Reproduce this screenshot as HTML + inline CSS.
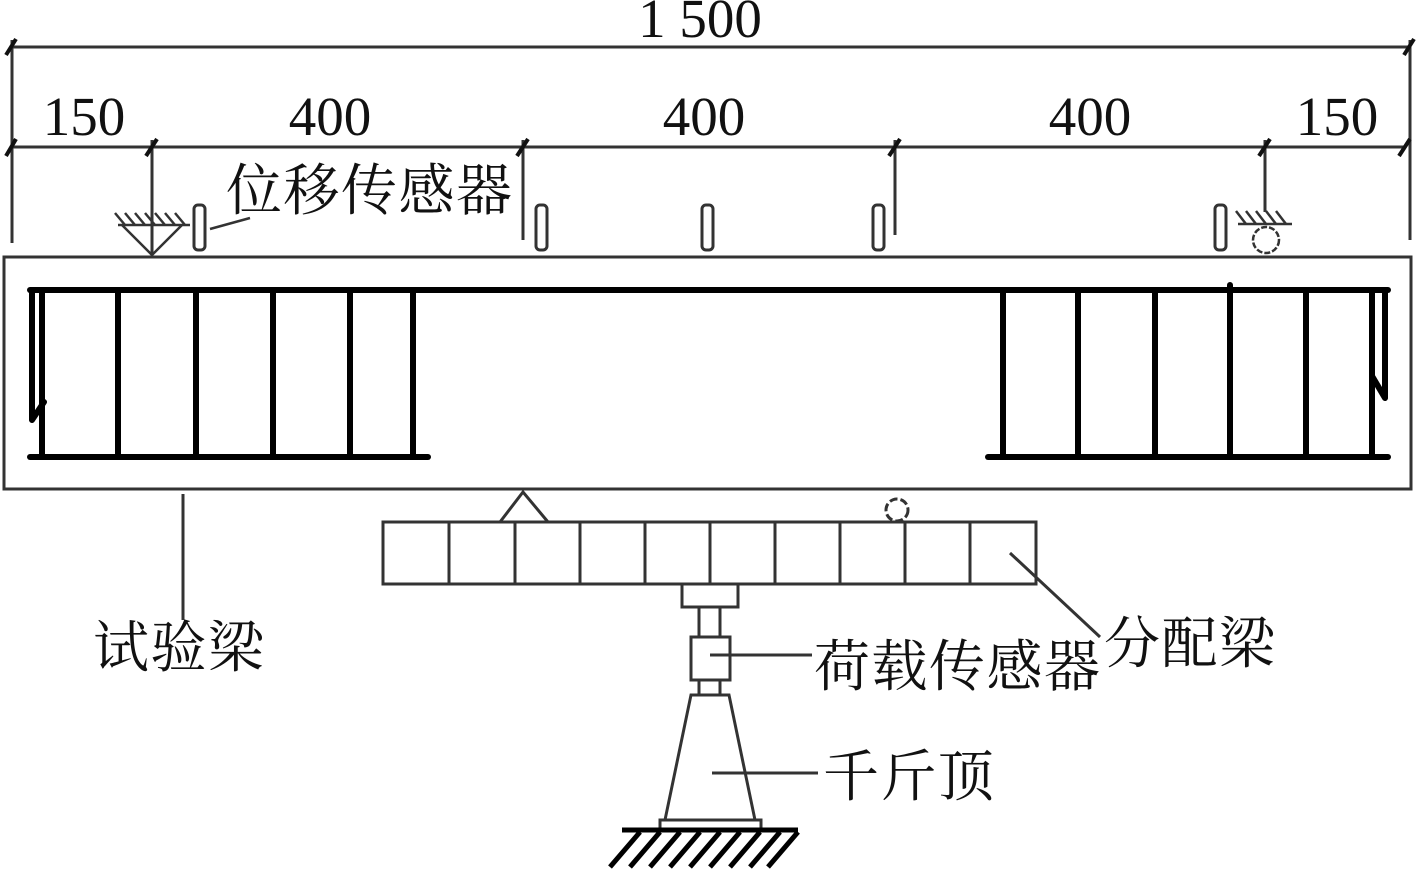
<!DOCTYPE html>
<html><head><meta charset="utf-8"><style>
html,body{margin:0;padding:0;background:#fff;}
svg{display:block;}
.n{font-family:"Liberation Serif",serif;font-size:55px;fill:#111;}
.c{font-family:"Liberation Serif","Noto Serif CJK SC","Noto Sans CJK SC",serif;font-size:56px;letter-spacing:1.5px;fill:#111;}
</style></head><body>
<svg width="1417" height="874" viewBox="0 0 1417 874" xmlns="http://www.w3.org/2000/svg">
<g stroke="#333" stroke-width="3" fill="none">
<line x1="12" y1="47" x2="1410" y2="47"/>
<line x1="12" y1="147" x2="1405" y2="147"/>
<line x1="12" y1="40" x2="12" y2="243"/>
<line x1="1410" y1="40" x2="1410" y2="240"/>
<line x1="152" y1="140" x2="152" y2="255"/>
<line x1="523" y1="140" x2="523" y2="240"/>
<line x1="895" y1="140" x2="895" y2="235"/>
<line x1="1265" y1="140" x2="1265" y2="212"/>
</g>
<g stroke="#111" stroke-width="4">
<line x1="6" y1="55" x2="16" y2="39"/><line x1="1404" y1="55" x2="1414" y2="39"/>
<line x1="6" y1="156" x2="16" y2="139"/><line x1="146" y1="156" x2="157" y2="139"/>
<line x1="517" y1="156" x2="528" y2="139"/><line x1="889" y1="156" x2="900" y2="139"/>
<line x1="1259" y1="156" x2="1270" y2="139"/><line x1="1399" y1="156" x2="1410" y2="139"/>
</g>
<text class="n" x="700" y="37" text-anchor="middle">1 500</text>
<text class="n" x="84" y="135" text-anchor="middle">150</text>
<text class="n" x="330" y="135" text-anchor="middle">400</text>
<text class="n" x="704" y="135" text-anchor="middle">400</text>
<text class="n" x="1090" y="135" text-anchor="middle">400</text>
<text class="n" x="1337" y="135" text-anchor="middle">150</text>
<g stroke="#333" stroke-width="2.5" fill="none">
<line x1="118" y1="225" x2="190" y2="225"/>
<path d="M122 225 L152 255 L182 225"/>
<path d="M115 213 l10 12 M125 213 l10 12 M135 213 l10 12 M145 213 l10 12 M155 213 l10 12 M165 213 l10 12 M175 213 l10 12"/>
<line x1="1238" y1="224" x2="1292" y2="224"/>
<path d="M1236 211 l10 13 M1246 211 l10 13 M1256 211 l10 13 M1266 211 l10 13 M1276 211 l10 13"/>
<circle cx="1266" cy="240" r="13" stroke-dasharray="6 2"/>
<g stroke-width="3">
<rect x="194" y="205" width="11" height="45" rx="4"/>
<rect x="536" y="205" width="11" height="45" rx="4"/>
<rect x="702" y="205" width="11" height="45" rx="4"/>
<rect x="873" y="205" width="11" height="45" rx="4"/>
<rect x="1215" y="205" width="11" height="45" rx="4"/>
</g>
<line x1="210" y1="229" x2="250" y2="218"/>
<rect x="4" y="257" width="1407" height="232" stroke-width="3"/>
</g>
<text class="c" x="226" y="210">位移传感器</text>
<g stroke="#000" stroke-width="6" fill="none" stroke-linecap="round">
<line x1="30" y1="290" x2="1388" y2="290"/>
<line x1="30" y1="457" x2="428" y2="457"/>
<line x1="988" y1="457" x2="1388" y2="457"/>
<path d="M32 290 L32 420 M32 420 L44 402"/>
<path d="M1385 290 L1385 398 M1385 398 L1372 376"/>
<line x1="42" y1="290" x2="42" y2="457"/>
<line x1="118" y1="290" x2="118" y2="457"/>
<line x1="196" y1="290" x2="196" y2="457"/>
<line x1="273" y1="290" x2="273" y2="457"/>
<line x1="350" y1="290" x2="350" y2="457"/>
<line x1="413" y1="290" x2="413" y2="457"/>
<line x1="1003" y1="290" x2="1003" y2="457"/>
<line x1="1078" y1="290" x2="1078" y2="457"/>
<line x1="1155" y1="290" x2="1155" y2="457"/>
<line x1="1230" y1="285" x2="1230" y2="457"/>
<line x1="1306" y1="290" x2="1306" y2="457"/>
<line x1="1372" y1="290" x2="1372" y2="457"/>
</g>
<g stroke="#333" stroke-width="3" fill="none">
<path d="M500 522 L523 492 L548 522"/>
<circle cx="897" cy="510" r="11" stroke-dasharray="8 3"/>
<rect x="383" y="522" width="653" height="62"/>
<line x1="449" y1="522" x2="449" y2="584"/><line x1="515" y1="522" x2="515" y2="584"/>
<line x1="580" y1="522" x2="580" y2="584"/><line x1="645" y1="522" x2="645" y2="584"/>
<line x1="710" y1="522" x2="710" y2="584"/><line x1="775" y1="522" x2="775" y2="584"/>
<line x1="840" y1="522" x2="840" y2="584"/><line x1="905" y1="522" x2="905" y2="584"/>
<line x1="970" y1="522" x2="970" y2="584"/>
<rect x="682" y="584" width="56" height="23"/>
<line x1="699" y1="607" x2="699" y2="637"/><line x1="720" y1="607" x2="720" y2="637"/>
<rect x="691" y="637" width="39" height="43"/>
<line x1="699" y1="680" x2="699" y2="695"/><line x1="720" y1="680" x2="720" y2="695"/>
<path d="M691 695 L729 695 L755 820 L665 820 Z"/>
<rect x="660" y="820" width="101" height="9"/>
<line x1="710" y1="655" x2="812" y2="655"/>
<line x1="712" y1="773" x2="818" y2="773"/>
<line x1="1010" y1="553" x2="1100" y2="637"/>
<line x1="183" y1="494" x2="183" y2="620"/>
</g>
<g stroke="#000" stroke-width="5">
<line x1="622" y1="830" x2="798" y2="830"/>
<path d="M640 832 l-30 35 M660 832 l-30 35 M680 832 l-30 35 M700 832 l-30 35 M720 832 l-30 35 M740 832 l-30 35 M760 832 l-30 35 M780 832 l-30 35 M798 832 l-30 35"/>
</g>
<text class="c" x="93" y="667">试验梁</text>
<text class="c" x="814" y="686">荷载传感器</text>
<text class="c" x="1104" y="663">分配梁</text>
<text class="c" x="823" y="796">千斤顶</text>
</svg>
</body></html>
